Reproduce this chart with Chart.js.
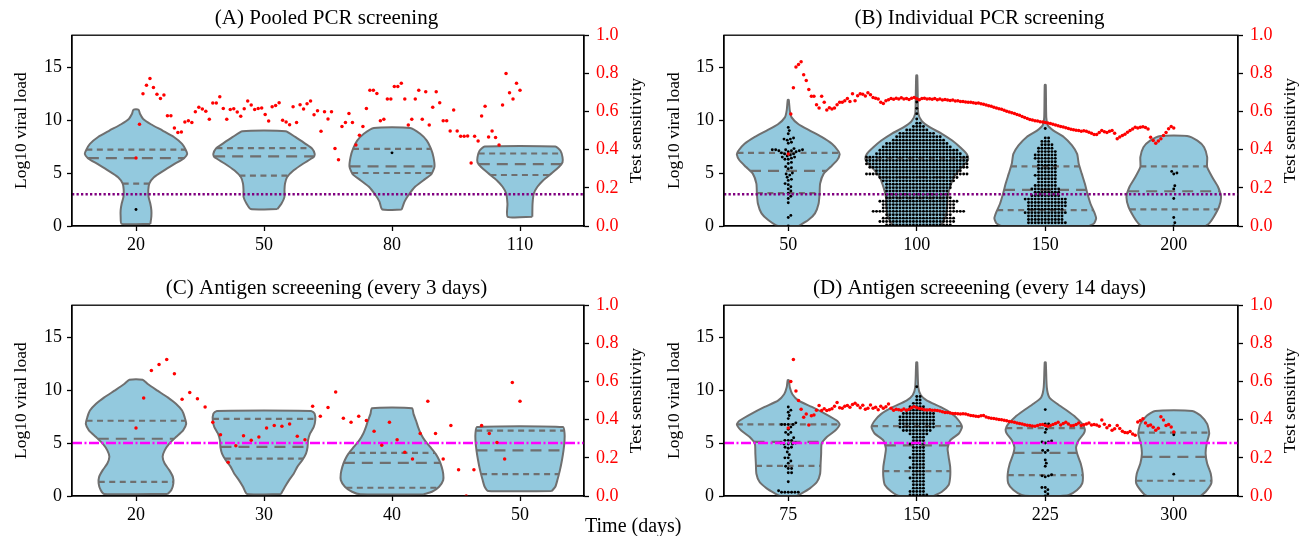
<!DOCTYPE html>
<html>
<head>
<meta charset="utf-8">
<script src="https://cdn.jsdelivr.net/npm/chart.js@4.4.1/dist/chart.umd.min.js"></script>
<style>
  body { margin: 0; background: #fff; width: 1306px; height: 536px; position: relative; overflow: hidden; }
  canvas { position: absolute; }
  #xlabel { position: absolute; left: 585px; top: 515px; font: 20px 'Liberation Serif', 'Times New Roman', serif; white-space: nowrap; line-height: 1; }
</style>
</head>
<body>
<canvas id="pA" width="653" height="268" style="left:0;top:0"></canvas>
<canvas id="pB" width="653" height="268" style="left:653px;top:0"></canvas>
<canvas id="pC" width="653" height="268" style="left:0;top:268px"></canvas>
<canvas id="pD" width="653" height="268" style="left:653px;top:268px"></canvas>
<div id="xlabel">Time (days)</div>
<script>
// violin positions (days)
const daysA = [20, 50, 80, 110];
const daysB = [50, 100, 150, 200];
const daysC = [20, 30, 40, 50];
const daysD = [75, 150, 225, 300];

// test sensitivity, evenly spaced between the first and last day of each span
const spanA = [20, 110];
const sensA = [0.356,0.533,0.693,0.738,0.773,0.726,0.691,0.668,0.686,0.578,
  0.578,0.514,0.490,0.493,0.545,0.552,0.543,0.599,0.622,0.613,
  0.601,0.559,0.644,0.644,0.677,0.616,0.559,0.611,0.615,0.597,
  0.575,0.615,0.655,0.634,0.611,0.616,0.618,0.585,0.550,0.625,
  0.632,0.646,0.554,0.545,0.531,0.625,0.543,0.635,0.613,0.641,
  0.655,0.583,0.604,0.497,0.599,0.561,
  0.599,0.406,0.347,0.521,0.543,0.589,0.543,0.425,0.476,0.521,
  0.616,0.712,0.712,0.694,0.552,0.559,0.665,0.665,0.731,0.731,
  0.748,0.665,0.530,0.559,0.665,0.712,0.559,0.703,0.530,0.623,
  0.703,0.646,0.552,0.552,0.498,0.608,0.498,0.470,0.470,0.472,
  0.330,0.470,0.446,0.576,0.628,0.467,0.498,0.464,0.425,0.634,
  0.799,0.698,0.665,0.748,0.712];

const spanB = [50, 200];
const sensB = [0.377,0.587,0.724,0.833,0.847,0.861,0.793,0.762,0.715,0.680,
  0.680,0.635,0.618,0.680,0.649,0.608,0.620,0.613,0.618,0.635,
  0.648,0.648,0.656,0.668,0.653,0.693,0.656,0.682,0.693,0.691,
  0.681,0.698,0.688,0.674,0.670,0.665,0.648,0.642,0.656,0.662,
  0.668,0.664,0.670,0.666,0.672,0.665,0.668,0.663,0.670,0.674,
  0.667,0.662,0.668,0.670,0.665,0.667,0.664,0.668,0.662,0.665,
  0.661,0.663,0.660,0.658,0.660,0.655,0.656,0.652,0.653,0.650,
  0.648,0.649,0.646,0.643,0.644,0.641,0.638,0.634,0.630,0.627,
  0.622,0.619,0.615,0.612,0.607,0.602,0.597,0.594,0.590,0.585,
  0.580,0.574,0.569,0.563,0.558,0.555,0.552,0.550,0.547,0.545,
  0.543,0.540,0.537,0.533,0.530,0.526,0.522,0.519,0.515,0.511,
  0.507,0.504,0.502,0.500,0.497,0.499,0.497,0.492,0.486,0.480,
  0.479,0.490,0.500,0.494,0.490,0.497,0.500,0.486,0.457,0.466,
  0.474,0.481,0.491,0.500,0.508,0.517,0.514,0.517,0.520,0.516,
  0.509,0.465,0.448,0.434,0.446,0.457,0.474,0.490,0.510,0.521,
  0.514];

const spanC = [20, 50];
const sensC = [0.356,0.514,0.658,0.689,0.715,0.641,0.507,0.542,0.510,0.467,
  0.387,0.321,0.177,0.264,0.316,0.292,0.309,0.356,0.370,0.365,
  0.378,0.313,0.295,0.470,0.418,0.464,
  0.545,0.408,0.387,0.418,0.396,0.340,0.266,0.387,0.295,0.229,
  0.194,0.328,0.497,0.328,0.194,0.370,0.137,0.000,0.137,0.370,
  0.328,0.280,0.194,0.595,0.497];

const spanD = [75, 300];
const sensD = [0.356,0.600,0.715,0.550,0.500,0.455,0.413,0.430,0.372,0.420,
  0.425,0.450,0.474,0.448,0.457,0.448,0.452,0.457,0.470,0.490,
  0.462,0.460,0.470,0.474,0.465,0.480,0.486,0.475,0.462,0.476,
  0.455,0.460,0.477,0.460,0.465,0.452,0.470,0.460,0.468,0.482,
  0.460,0.449,0.455,0.452,0.450,0.456,0.449,0.455,0.463,0.468,
  0.462,0.459,0.456,0.452,0.451,0.452,0.450,0.449,0.448,0.446,
  0.442,0.438,0.437,0.435,0.433,0.432,0.431,0.430,0.431,0.430,
  0.426,0.422,0.421,0.418,0.417,0.420,0.422,0.414,0.410,0.408,
  0.406,0.404,0.401,0.399,0.397,0.394,0.391,0.389,0.387,0.383,
  0.380,0.378,0.374,0.371,0.369,0.367,0.365,0.370,0.374,0.375,
  0.370,0.365,0.370,0.375,0.380,0.387,0.372,0.380,0.387,0.378,
  0.368,0.370,0.375,0.382,0.370,0.374,0.377,0.382,0.372,0.375,
  0.372,0.366,0.398,0.376,0.358,0.370,0.345,0.352,0.370,0.354,
  0.340,0.333,0.332,0.338,0.325,0.318,0.388,0.396,0.405,0.382,
  0.368,0.372,0.360,0.345,0.355,0.415,0.398,0.370,0.375,0.362,
  0.335];

// violin outlines: [log10 viral load, relative half width]
const shapeA20 = [[0.2,0.28],[0.9,0.30],[1.5,0.30],[2.1,0.28],[2.75,0.245],[3.4,0.24],[4.0,0.26],[4.6,0.35],[5.25,0.55],[5.9,0.77],[6.4,0.94],[6.8,1.0],[7.2,0.97],[7.75,0.9],[8.4,0.74],[9.0,0.52],[9.6,0.29],[10.1,0.14],[10.56,0.08],[10.97,0.05]];
const shapeA50 = [[1.6,0.26],[2.1,0.34],[2.75,0.40],[3.4,0.40],[4.0,0.41],[4.6,0.45],[5.25,0.58],[5.9,0.77],[6.5,0.97],[6.8,0.99],[7.3,0.94],[7.75,0.81],[8.4,0.61],[8.94,0.42]];
const shapeA80 = [[1.56,0.19],[2.3,0.245],[2.9,0.32],[3.7,0.45],[4.3,0.61],[4.9,0.77],[5.6,0.83],[6.5,0.81],[7.3,0.76],[8.06,0.68],[8.7,0.55],[9.25,0.355]];
const shapeA110 = [[0.87,0.24],[2.1,0.245],[3.06,0.27],[3.7,0.34],[4.3,0.45],[4.94,0.61],[5.56,0.76],[6.0,0.83],[6.5,0.83],[7.1,0.79],[7.5,0.69]];

const shapeB50 = [[0,0.2],[0.56,0.39],[1.19,0.52],[2.1,0.59],[3.06,0.61],[4.0,0.62],[4.94,0.69],[5.56,0.82],[6.2,0.95],[6.75,1.0],[7.1,0.97],[7.75,0.85],[8.4,0.65],[9.0,0.42],[9.6,0.2],[10.25,0.065],[10.9,0.03],[11.9,0.01]];
const shapeB100 = [[0,0.46],[0.25,0.49],[0.87,0.56],[1.8,0.59],[2.75,0.6],[3.7,0.65],[4.6,0.72],[5.25,0.82],[5.9,0.95],[6.3,1.0],[6.8,0.97],[7.4,0.85],[8.06,0.69],[8.7,0.49],[9.3,0.26],[9.9,0.1],[10.6,0.03],[12.1,0.02],[14.2,0.01]];
const shapeB150 = [[0,0.85],[0.25,0.95],[0.72,0.99],[1.34,0.95],[2.1,0.88],[3.06,0.82],[4.0,0.77],[4.94,0.71],[5.9,0.65],[6.8,0.62],[7.6,0.52],[8.4,0.36],[9.0,0.16],[9.5,0.05],[10.25,0.02],[13.3,0.01]];
const shapeB200 = [[0,0.62],[0.25,0.69],[0.87,0.78],[1.8,0.88],[2.75,0.92],[3.7,0.86],[4.6,0.75],[5.56,0.65],[6.5,0.65],[7.44,0.59],[8.06,0.46],[8.5,0.26]];

const shapeC20 = [[0.19,0.62],[0.56,0.69],[1.19,0.73],[1.8,0.72],[2.44,0.65],[3.06,0.56],[3.7,0.52],[4.3,0.56],[4.94,0.65],[5.56,0.78],[6.2,0.92],[6.8,0.98],[7.44,0.95],[8.06,0.9],[8.7,0.78],[9.3,0.62],[9.94,0.42],[10.56,0.23],[10.97,0.13]];
const shapeC30 = [[0.19,0.33],[0.875,0.41],[1.5,0.49],[2.1,0.58],[2.75,0.65],[3.4,0.75],[4.0,0.82],[4.6,0.85],[5.25,0.86],[5.9,0.9],[6.5,0.97],[7.1,1.0],[7.75,0.99],[8.03,0.92]];
const shapeC40 = [[0.16,0.62],[0.4,0.78],[0.875,0.92],[1.5,1.0],[2.1,1.0],[2.75,0.97],[3.4,0.92],[4.0,0.85],[4.6,0.75],[5.25,0.64],[5.9,0.56],[6.5,0.51],[7.1,0.47],[7.75,0.42],[8.28,0.39]];
const shapeC50 = [[0.47,0.62],[0.875,0.69],[1.5,0.73],[2.44,0.78],[3.4,0.82],[4.3,0.85],[5.25,0.87],[5.9,0.87],[6.5,0.84]];

const shapeD75 = [[0,0.16],[0.25,0.26],[0.72,0.42],[1.34,0.56],[2.1,0.62],[3.06,0.63],[4.0,0.64],[4.94,0.65],[5.56,0.75],[6.2,0.92],[6.75,1.0],[7.1,0.95],[7.75,0.72],[8.4,0.46],[9.0,0.2],[9.6,0.08],[10.25,0.03],[10.94,0.01]];
const shapeD150 = [[0,0.33],[0.4,0.49],[1.03,0.62],[1.8,0.65],[2.75,0.65],[3.7,0.62],[4.47,0.6],[5.25,0.65],[5.9,0.82],[6.5,0.88],[7.1,0.82],[7.75,0.69],[8.4,0.46],[9.0,0.2],[9.5,0.08],[10.25,0.03],[12.6,0.01]];
const shapeD225 = [[0,0.3],[0.1,0.46],[0.56,0.62],[1.19,0.72],[2.1,0.73],[3.06,0.69],[4.0,0.62],[4.6,0.6],[5.25,0.65],[5.9,0.75],[6.3,0.77],[6.8,0.72],[7.44,0.59],[8.06,0.42],[8.7,0.23],[9.3,0.08],[10.25,0.03],[12.6,0.01]];
const shapeD300 = [[0,0.52],[0.4,0.62],[1.19,0.73],[2.1,0.72],[3.06,0.65],[4.0,0.62],[4.94,0.64],[5.9,0.69],[6.8,0.65],[7.6,0.52],[8.03,0.36]];

// quartiles [Q1, median, Q3] per violin
const quartA = [[4.0,6.4,7.2],[4.75,6.56,7.34],[5.0,5.63,7.28],[4.81,5.84,6.84]];
const quartB = [[3.1,5.2,6.9],[2.6,4.6,6.4],[1.5,3.4,5.63],[1.56,3.28,5.63]];
const quartC = [[1.34,5.4,7.1],[3.53,4.63,7.28],[0.78,3.125,4.06],[2.06,4.31,6.16]];
const quartD = [[2.84,5.1,6.75],[2.34,4.78,6.6],[1.97,4.06,6.4],[1.44,3.69,5.97]];

// detected cases per screening day: [log10 viral load, count]
const dotsA20 = [[1.56,1]];
const dotsA80 = [[6.9,1]];
const dotsB50 = [[0,1],[0.8,1],[1.0,1],[2.2,1],[2.6,1],[2.8,1],[3.1,1],[3.3,1],[3.5,1],[3.7,1],[3.9,1],[4.0,1],[4.3,1],[4.4,1],[4.6,1],[4.8,1],[4.9,1],[5.0,1],[5.4,1],[5.5,1],[5.6,1],[5.9,1],[6.0,1],[6.3,2],[6.4,1],[6.5,2],[6.6,1],[6.7,1],[6.8,2],[6.9,1],[7.0,2],[7.1,3],[7.2,4],[7.3,1],[7.8,1],[7.9,1],[8.1,1],[8.2,2],[8.3,1],[8.7,1],[9.0,1],[9.3,1]];
const dotsB100 = [[0.1,20],[0.42,23],[0.74,22],[1.06,20],[1.38,28],[1.7,22],[2.02,22],[2.34,24],[2.66,20],[2.98,19],[3.3,19],[3.62,20],[3.94,20],[4.26,22],[4.58,24],[4.9,31],[5.22,26],[5.54,30],[5.86,31],[6.18,31],[6.5,31],[6.82,26],[7.14,24],[7.46,21],[7.78,19],[8.1,16],[8.42,14],[8.74,11],[9.06,7],[9.38,4],[9.7,2],[10.1,1],[10.6,1],[11.1,1],[11.7,1]];
const dotsB150 = [[0.3,12],[0.62,11],[0.94,11],[1.26,13],[1.58,11],[1.9,12],[2.22,12],[2.54,13],[2.86,9],[3.18,8],[3.5,9],[3.82,7],[4.14,6],[4.46,6],[4.78,7],[5.1,6],[5.42,6],[5.74,6],[6.06,6],[6.38,7],[6.7,7],[7.02,6],[7.34,5],[7.66,4],[7.98,3],[8.3,2],[9.2,1]];
const dotsB200 = [[0,1],[0.3,1],[0.8,1],[2.6,1],[3.5,1],[3.8,1],[4.9,1],[5.0,1],[5.15,1]];
const dotsD75 = [[0.35,6],[0.5,1],[1.35,1],[2.2,2],[2.6,2],[2.8,1],[3.1,1],[3.3,1],[3.6,2],[3.9,1],[4.15,1],[4.5,1],[4.6,2],[4.9,3],[5.0,2],[5.25,3],[5.5,1],[5.8,1],[6.0,2],[6.3,1],[6.5,1],[6.75,4],[6.9,1],[7.3,1],[7.6,1],[7.9,1],[8.1,1],[8.4,1]];
const dotsD150 = [[0.1,6],[0.42,5],[0.74,4],[1.06,4],[1.38,4],[1.7,5],[2.02,4],[2.34,4],[2.66,5],[2.98,4],[3.3,4],[3.62,5],[3.94,4],[4.26,4],[4.58,4],[4.9,5],[5.22,4],[5.54,4],[5.86,6],[6.18,9],[6.5,11],[6.82,11],[7.14,11],[7.46,11],[7.78,10],[8.1,8],[8.42,5],[8.74,3],[9.06,2],[9.38,2],[10.3,1]];
const dotsD225 = [[0.0,1],[0.2,1],[0.4,1],[0.6,1],[0.8,2],[1.8,1],[1.9,2],[2.0,1],[2.8,1],[3.1,1],[3.4,1],[4.1,1],[4.3,2],[5.0,1],[5.1,2],[5.2,1],[6.0,1],[6.3,1],[6.8,2],[8.15,1]];
const dotsD300 = [[2.06,1],[5.78,1]];

const loadTicks = [0, 5, 10, 15];
const sensTicks = [0, 0.2, 0.4, 0.6, 0.8, 1.0];

const FONT = "'Liberation Serif', 'Times New Roman', serif";
const VIOLIN_FILL = '#93c9de';
const VIOLIN_EDGE = '#6f6f6f';
const DOT_GAP = 3.35;
Chart.defaults.font.family = FONT;
Chart.defaults.color = '#000';

function widthAt(shape, y) {
  for (let i = 1; i < shape.length; i++) {
    const [y0, w0] = shape[i - 1], [y1, w1] = shape[i];
    if (y <= y1) return w0 + (w1 - w0) * (y - y0) / (y1 - y0);
  }
  return shape[shape.length - 1][1];
}

// seaborn-style swarm: each point goes to the free slot nearest the centre
function beeswarm(rows, center, xs, ys, d) {
  const vals = [];
  rows.forEach(([y, n]) => { for (let i = 0; i < n; i++) vals.push(y); });
  vals.sort((a, b) => a - b);
  const placed = [];
  const cx = xs.getPixelForValue(center);
  return vals.map(v => {
    const py = ys.getPixelForValue(v);
    const near = placed.filter(p => Math.abs(p.py - py) < d);
    const cands = [0];
    near.forEach(p => {
      const dx = Math.sqrt(d * d - (p.py - py) ** 2);
      cands.push(p.ox + dx, p.ox - dx);
    });
    cands.sort((a, b) => Math.abs(a) - Math.abs(b));
    const ox = cands.find(c => near.every(p => (p.ox - c) ** 2 + (p.py - py) ** 2 >= d * d - 0.01));
    placed.push({ ox, py });
    return { x: xs.getValueForPixel(cx + ox), y: v };
  });
}

const framePlugin = {
  id: 'frame',
  afterDatasetsDraw(chart) {
    const { ctx, chartArea: a } = chart;
    ctx.save();
    ctx.strokeStyle = '#000';
    ctx.lineWidth = 1.3;
    ctx.strokeRect(a.left, a.top, a.right - a.left, a.bottom - a.top);
    ctx.restore();
  }
};

// right-hand axis label, read bottom to top
const rightTitle = {
  id: 'rightTitle',
  afterDraw(chart) {
    const { ctx, chartArea: a } = chart;
    ctx.save();
    ctx.translate(a.right + 52, (a.top + a.bottom) / 2);
    ctx.rotate(-Math.PI / 2);
    ctx.font = '17.5px ' + FONT;
    ctx.fillStyle = '#000';
    ctx.textAlign = 'center';
    ctx.textBaseline = 'middle';
    ctx.fillText('Test sensitivity', 0, 0);
    ctx.restore();
  }
};

function panel(id, p) {
  const slot = p.days[1] - p.days[0];
  const half = 0.4 * slot;
  const xmin = p.days[0] - slot / 2, xmax = p.days[p.days.length - 1] + slot / 2;
  const datasets = [];

  const n = p.sens.length;
  datasets.push({
    type: 'scatter', yAxisID: 'y2', order: 0,
    data: p.sens.map((v, i) => ({ x: p.span[0] + (p.span[1] - p.span[0]) * i / (n - 1), y: v })),
    backgroundColor: '#ff0000', borderWidth: 0, pointRadius: 1.75
  });

  datasets.push({
    type: 'line', order: 1,
    data: [{ x: xmin, y: p.thr }, { x: xmax, y: p.thr }],
    borderColor: p.thrColor, borderDash: p.thrDash, borderWidth: 2.5, pointRadius: 0
  });

  const swarms = p.dots.map(rows => {
    const ds = { type: 'scatter', order: 2, data: [], backgroundColor: '#000', borderWidth: 0, pointRadius: 1.45 };
    datasets.push(ds);
    return ds;
  });

  p.shapes.forEach((shape, k) => {
    const c = p.days[k];
    const right = shape.map(([y, w]) => ({ x: c + w * half, y }));
    const left = shape.slice().reverse().map(([y, w]) => ({ x: c - w * half, y }));
    datasets.push({
      type: 'line', order: 4, data: right.concat(left, [right[0]]),
      fill: 'shape', backgroundColor: VIOLIN_FILL, borderColor: VIOLIN_EDGE,
      borderWidth: 2, pointRadius: 0, tension: 0.2
    });
    p.quarts[k].forEach((q, j) => {
      const w = widthAt(shape, q) * half;
      datasets.push({
        type: 'line', order: 3, data: [{ x: c - w, y: q }, { x: c + w, y: q }],
        borderColor: VIOLIN_EDGE, borderWidth: 2.2, pointRadius: 0,
        borderDash: j === 1 ? [11, 7] : [6, 4.5]
      });
    });
  });

  const tickGrid = { drawOnChartArea: false, color: '#000', tickLength: 5, tickWidth: 1.3 };
  const border = { color: '#000', width: 1.3 };

  const chart = new Chart(document.getElementById(id), {
    type: 'scatter',
    data: { datasets },
    options: {
      responsive: false,
      animation: false,
      layout: { padding: 0 },
      plugins: {
        legend: { display: false },
        tooltip: { enabled: false },
        title: {
          display: true, text: p.title, color: '#000',
          font: { size: 21, weight: 'normal' },
          padding: { top: p.titleTop, bottom: 4 }
        }
      },
      scales: {
        x: {
          type: 'linear', min: xmin, max: xmax,
          afterBuildTicks: s => { s.ticks = p.days.map(v => ({ value: v })); },
          afterFit: s => { s.height = p.bottomH; },
          ticks: { font: { size: 18 }, color: '#000', padding: 3, maxRotation: 0, autoSkip: false },
          grid: tickGrid, border
        },
        y: {
          position: 'left', min: 0, max: 18,
          afterBuildTicks: s => { s.ticks = loadTicks.map(v => ({ value: v })); },
          afterFit: s => { s.width = p.leftW; },
          ticks: { font: { size: 18 }, color: '#000', padding: 5 },
          grid: tickGrid, border,
          title: { display: true, text: 'Log10 viral load', font: { size: 17.5 }, color: '#000', padding: { top: 11, bottom: 0 } }
        },
        y2: {
          position: 'right', min: 0, max: 1,
          afterBuildTicks: s => { s.ticks = sensTicks.map(v => ({ value: v })); },
          afterFit: s => { s.width = p.rightW; },
          ticks: { font: { size: 18 }, color: '#ff0000', padding: 7, callback: v => v.toFixed(1) },
          grid: tickGrid, border
        }
      }
    },
    plugins: [framePlugin, rightTitle]
  });

  swarms.forEach((ds, k) => {
    ds.data = beeswarm(p.dots[k], p.days[k], chart.scales.x, chart.scales.y, DOT_GAP);
  });
  chart.update('none');
  return chart;
}

panel('pA', {
  title: '(A) Pooled PCR screening', days: daysA, sens: sensA, span: spanA,
  shapes: [shapeA20, shapeA50, shapeA80, shapeA110], quarts: quartA,
  dots: [dotsA20, [], dotsA80, []],
  thr: 3, thrColor: '#800080', thrDash: [2.3, 2.2],
  titleTop: 6, bottomH: 42, leftW: 72, rightW: 69
});
panel('pB', {
  title: '(B) Individual PCR screening', days: daysB, sens: sensB, span: spanB,
  shapes: [shapeB50, shapeB100, shapeB150, shapeB200], quarts: quartB,
  dots: [dotsB50, dotsB100, dotsB150, dotsB200],
  thr: 3, thrColor: '#800080', thrDash: [2.3, 2.2],
  titleTop: 6, bottomH: 42, leftW: 71, rightW: 68
});
panel('pC', {
  title: '(C) Antigen screeening (every 3 days)', days: daysC, sens: sensC, span: spanC,
  shapes: [shapeC20, shapeC30, shapeC40, shapeC50], quarts: quartC,
  dots: [[], [], [], []],
  thr: 5, thrColor: '#ff00ff', thrDash: [10, 2.5, 2, 2.5],
  titleTop: 8, bottomH: 40, leftW: 72, rightW: 69
});
panel('pD', {
  title: '(D) Antigen screeening (every 14 days)', days: daysD, sens: sensD, span: spanD,
  shapes: [shapeD75, shapeD150, shapeD225, shapeD300], quarts: quartD,
  dots: [dotsD75, dotsD150, dotsD225, dotsD300],
  thr: 5, thrColor: '#ff00ff', thrDash: [10, 2.5, 2, 2.5],
  titleTop: 8, bottomH: 40, leftW: 71, rightW: 68
});
</script>
</body>
</html>
